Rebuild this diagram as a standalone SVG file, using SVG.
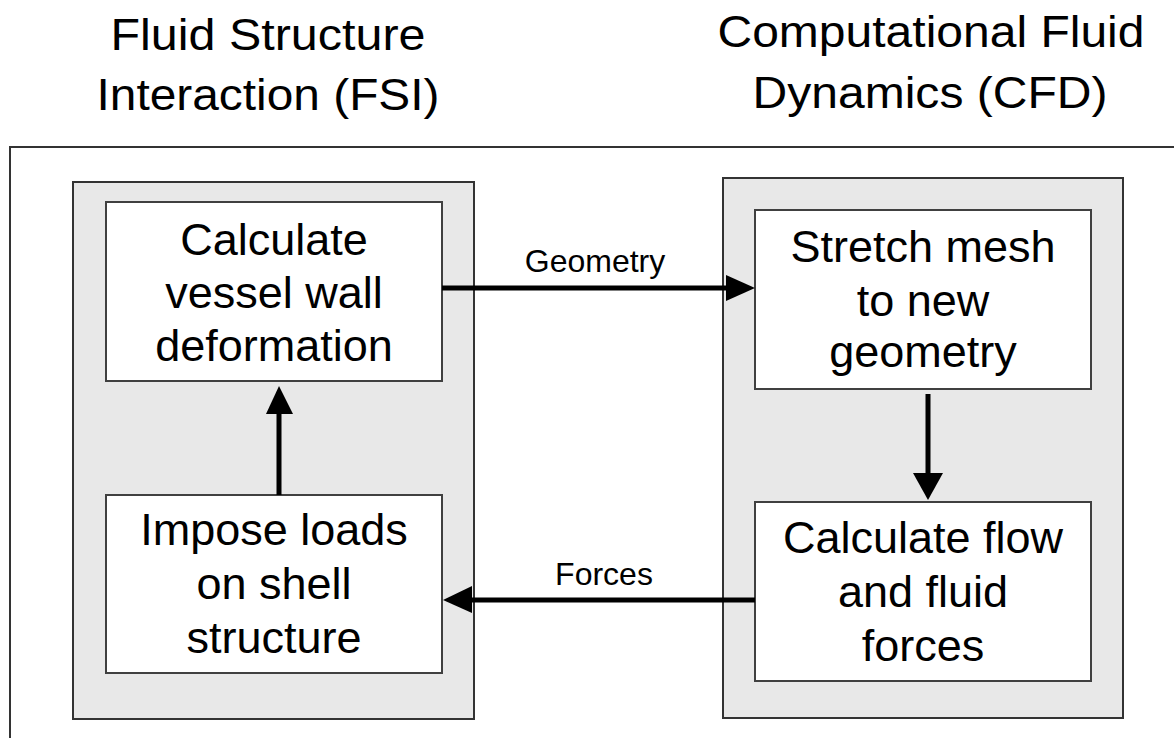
<svg xmlns="http://www.w3.org/2000/svg" width="1174" height="738" viewBox="0 0 1174 738">
<style>
  text { font-family: "Liberation Sans", Arial, sans-serif; fill: #000; text-anchor: middle; }
  .title { font-size: 44px; }
  .node { font-size: 45px; }
  .lbl { font-size: 32px; }
  .panel { fill: #e8e8e8; stroke: #333; stroke-width: 2; }
  .box { fill: #fff; stroke: #404040; stroke-width: 2; }
  .conn { stroke: #000; stroke-width: 5; fill: none; }
  .head { fill: #000; }
</style>
<rect width="1174" height="738" fill="#fff"/>
<g id="titles">
  <text class="title" x="268" y="50" textLength="315" lengthAdjust="spacingAndGlyphs">Fluid Structure</text>
  <text class="title" x="268" y="110" textLength="343" lengthAdjust="spacingAndGlyphs">Interaction (FSI)</text>
  <text class="title" x="931" y="47" textLength="427" lengthAdjust="spacingAndGlyphs">Computational Fluid</text>
  <text class="title" x="930" y="108" textLength="355" lengthAdjust="spacingAndGlyphs">Dynamics (CFD)</text>
</g>
<rect id="frame" x="10" y="147" width="1200" height="700" fill="none" stroke="#333" stroke-width="2"/>
<g id="fsi-panel">
  <rect class="panel" x="73" y="182" width="401" height="537"/>
</g>
<g id="cfd-panel">
  <rect class="panel" x="723" y="178" width="400" height="540"/>
</g>
<g id="node-deform">
  <rect class="box" x="106" y="202" width="336" height="179"/>
  <text class="node" x="274" y="255">Calculate</text>
  <text class="node" x="274" y="308">vessel wall</text>
  <text class="node" x="274" y="361">deformation</text>
</g>
<g id="node-loads">
  <rect class="box" x="106" y="495" width="336" height="178"/>
  <text class="node" x="274" y="545">Impose loads</text>
  <text class="node" x="274" y="599">on shell</text>
  <text class="node" x="274" y="653">structure</text>
</g>
<g id="node-stretch">
  <rect class="box" x="755" y="210" width="336" height="179"/>
  <text class="node" x="923" y="262">Stretch mesh</text>
  <text class="node" x="923" y="316">to new</text>
  <text class="node" x="923" y="367">geometry</text>
</g>
<g id="node-flow">
  <rect class="box" x="755" y="502" width="336" height="179"/>
  <text class="node" x="923" y="553">Calculate flow</text>
  <text class="node" x="923" y="607">and fluid</text>
  <text class="node" x="923" y="661">forces</text>
</g>
<g id="connectors">
  <line class="conn" x1="442" y1="288" x2="728" y2="288"/>
  <polygon class="head" points="755,288 726,275 726,301"/>
  <text class="lbl" x="595" y="272">Geometry</text>
  <line class="conn" x1="755" y1="600" x2="470" y2="600"/>
  <polygon class="head" points="443,600 472,586 472,613"/>
  <text class="lbl" x="604" y="585">Forces</text>
  <line class="conn" x1="279" y1="495" x2="279" y2="412"/>
  <polygon class="head" points="279,386 266,414 293,414"/>
  <line class="conn" x1="928" y1="394" x2="928" y2="476"/>
  <polygon class="head" points="928,500 913,473 943,473"/>
</g>
</svg>
